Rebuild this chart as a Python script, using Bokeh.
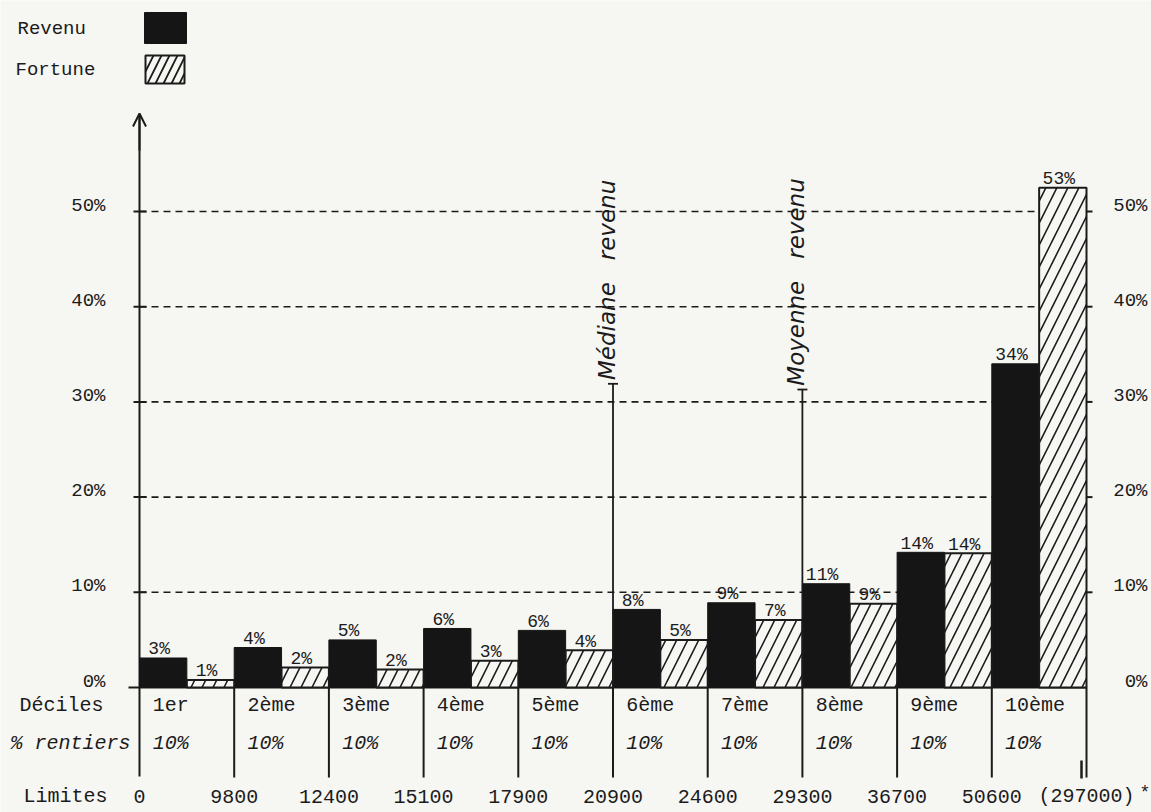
import numpy as np
from bokeh.plotting import figure
from bokeh.models import Range1d, Arrow, OpenHead
from bokeh.core.properties import value
from bokeh.embed import file_html
from bokeh.resources import INLINE

# ---------------- data ----------------
deciles = ["1er", "2ème", "3ème", "4ème", "5ème", "6ème", "7ème", "8ème", "9ème", "10ème"]
rentiers = ["10%", "10%", "10%", "10%", "10%", "10%", "10%", "10%", "10%", "10%"]
revenu = [3.1, 4.2, 5.0, 6.2, 6.0, 8.2, 8.9, 10.9, 14.2, 34.0]
fortune = [0.8, 2.1, 1.9, 2.8, 3.9, 5.0, 7.1, 8.8, 14.1, 52.5]
revenu_labels = ["3%", "4%", "5%", "6%", "6%", "8%", "9%", "11%", "14%", "34%"]
fortune_labels = ["1%", "2%", "2%", "3%", "4%", "5%", "7%", "9%", "14%", "53%"]
limites = ["0", "9800", "12400", "15100", "17900", "20900", "24600", "29300", "36700", "50600", "(297000)"]
y_ticks = [0, 10, 20, 30, 40, 50]
y_tick_labels = ["0%", "10%", "20%", "30%", "40%", "50%"]
mediane_limit = 5      # index in limites (20900)
moyenne_limit = 7      # index in limites (29300)
mediane_top = 31.9
moyenne_top = 31.3

# ---------------- layout ----------------
W, H = 1151, 812
AX_PX, ZERO_PY = 139, 687      # canvas pixel of x=0 / y=0
DX, DY = 94.7, 9.52            # pixels per decile / per percent

def X(px):
    return (px - AX_PX) / DX

def Y(py):
    return (ZERO_PY - py) / DY

BG = "#f6f6f3"
INK = "#1b1b1b"
MONO = value("Liberation Mono")
HAND = value("DejaVu Sans")
NB = "\u00a0"

p = figure(width=W, height=H,
           x_range=Range1d(X(0), X(W)), y_range=Range1d(Y(H), Y(0)),
           x_axis_type=None, y_axis_type=None,
           output_backend="svg", toolbar_location=None, min_border=0,
           background_fill_color=BG, border_fill_color=BG, outline_line_color=None)
p.grid.visible = False

n = len(deciles)
idx = np.arange(n)

# dashed grid lines
grid = y_ticks[1:]
p.segment(x0=[0] * len(grid), x1=[n] * len(grid), y0=grid, y1=grid,
          line_color=INK, line_width=1.6, line_dash="7 5")
# zero line
p.segment(x0=[X(128)], x1=[n], y0=[0], y1=[0], line_color=INK, line_width=2.2)
# tick marks left and right
p.segment(x0=[X(133)] * len(grid), x1=[X(146)] * len(grid), y0=grid, y1=grid,
          line_color=INK, line_width=2)
p.segment(x0=[n - 6 / DX] * len(grid), x1=[n + 6 / DX] * len(grid), y0=grid, y1=grid,
          line_color=INK, line_width=2)

# vertical axis with arrow
p.segment(x0=[0], x1=[0], y0=[Y(776)], y1=[Y(114)], line_color=INK, line_width=2)
p.add_layout(Arrow(end=OpenHead(size=13, line_color=INK, line_width=2),
                   x_start=0, y_start=Y(150), x_end=0, y_end=Y(113),
                   line_color=INK, line_width=2))

# decile boundaries below axis
bnd = np.arange(1, n + 1)
p.segment(x0=bnd, x1=bnd, y0=[0] * n, y1=[Y(777)] * n, line_color=INK, line_width=2)
p.segment(x0=[n - 5 / DX], x1=[n - 5 / DX], y0=[Y(760)], y1=[Y(778)], line_color=INK, line_width=2.5)

# bars
p.vbar(x=idx + 0.25, width=0.5, top=revenu, bottom=0,
       fill_color="#151515", line_color="#151515", line_width=1)
p.vbar(x=idx + 0.75, width=0.5, top=fortune, bottom=0,
       fill_color=BG, line_color=INK, line_width=2,
       hatch_pattern="/", hatch_color=INK, hatch_scale=22, hatch_weight=1.6)

# bar labels
p.text(x=idx + 0.25, y=np.array(revenu) + 0.9, text=revenu_labels, x_offset=-4,
       text_align="center", text_baseline="alphabetic",
       text_font=MONO, text_font_size="18px", text_color=INK)
p.text(x=idx + 0.75, y=np.array(fortune) + 0.9, text=fortune_labels, x_offset=-4,
       text_align="center", text_baseline="alphabetic",
       text_font=MONO, text_font_size="18px", text_color=INK)

# y tick labels (both sides)
p.text(x=[X(105)] * len(y_ticks), y=y_ticks, text=y_tick_labels, y_offset=-6,
       text_align="right", text_baseline="middle",
       text_font=MONO, text_font_size="19px", text_color=INK)
p.text(x=[X(1147)] * len(y_ticks), y=y_ticks, text=y_tick_labels, y_offset=-6,
       text_align="right", text_baseline="middle",
       text_font=MONO, text_font_size="19px", text_color=INK)

# table rows
p.text(x=[X(19)], y=[Y(705)], text=["Déciles"], text_align="left", text_baseline="middle",
       text_font=MONO, text_font_size="20px", text_color=INK)
p.text(x=[X(10)], y=[Y(743)], text=["% rentiers"], text_align="left", text_baseline="middle",
       text_font=MONO, text_font_size="20px", text_font_style="italic", text_color=INK)
p.text(x=[X(23)], y=[Y(796)], text=["Limites"], text_align="left", text_baseline="middle",
       text_font=MONO, text_font_size="20px", text_color=INK)

p.text(x=idx + 0.14, y=[Y(705)] * n, text=deciles, text_align="left", text_baseline="middle",
       text_font=MONO, text_font_size="20px", text_color=INK)
p.text(x=idx + 0.14, y=[Y(743)] * n, text=rentiers, text_align="left", text_baseline="middle",
       text_font=MONO, text_font_size="20px", text_font_style="italic", text_color=INK)
p.text(x=np.arange(len(limites)), y=[Y(796)] * len(limites), text=limites,
       text_align="center", text_baseline="middle",
       text_font=MONO, text_font_size="20px", text_color=INK)
p.text(x=[X(1139)], y=[Y(792)], text=["*"], text_align="left", text_baseline="middle",
       text_font=MONO, text_font_size="18px", text_color=INK)

# median / mean reference lines
for lim, top, txt in [(mediane_limit, mediane_top, "Médiane" + NB * 3 + "revenu"),
                      (moyenne_limit, moyenne_top, "Moyenne" + NB * 3 + "revenu")]:
    p.segment(x0=[lim], x1=[lim], y0=[0], y1=[top], line_color=INK, line_width=1.8)
    p.segment(x0=[lim - 5 / DX], x1=[lim + 5 / DX], y0=[top], y1=[top], line_color=INK, line_width=1.8)
    p.text(x=[lim - 6 / DX], y=[top + 0.4], text=[txt], angle=np.pi / 2,
           text_align="left", text_baseline="middle",
           text_font=HAND, text_font_size="23px", text_font_style="italic", text_color=INK)

# legend
p.quad(left=[X(144)], right=[X(186)], top=[Y(12)], bottom=[Y(43)],
       fill_color="#151515", line_color="#151515")
p.quad(left=[X(145)], right=[X(184)], top=[Y(55)], bottom=[Y(83)],
       fill_color=BG, line_color=INK, line_width=2,
       hatch_pattern="/", hatch_color=INK, hatch_scale=16, hatch_weight=1.8)
p.text(x=[X(17)], y=[Y(28)], text=["Revenu"], text_align="left", text_baseline="middle",
       text_font=MONO, text_font_size="19px", text_color=INK)
p.text(x=[X(15)], y=[Y(69)], text=["Fortune"], text_align="left", text_baseline="middle",
       text_font=MONO, text_font_size="19px", text_color=INK)

open("out.html", "w").write(file_html(p, INLINE))
